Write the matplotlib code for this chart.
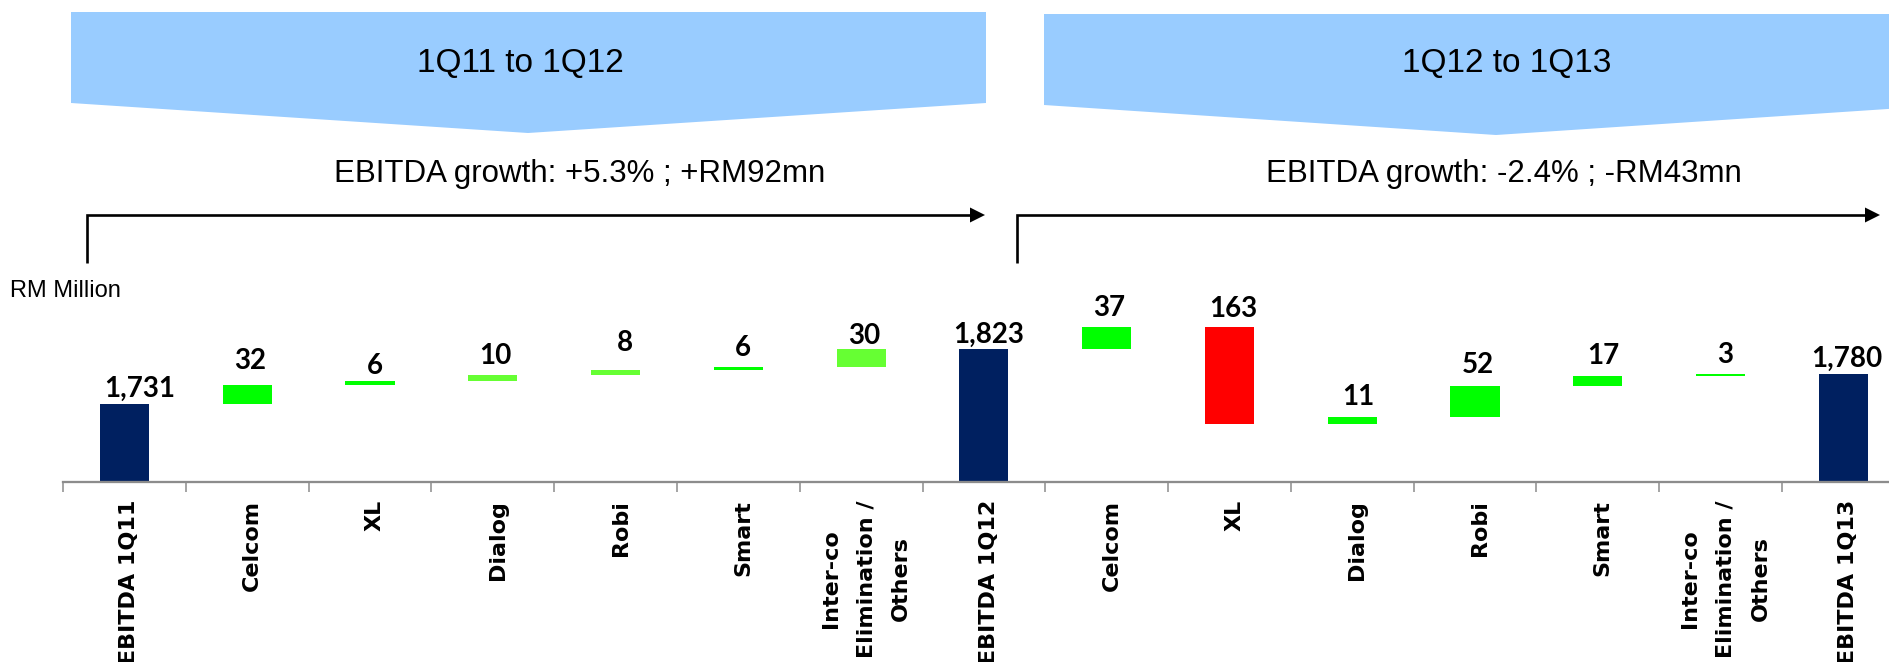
import matplotlib
matplotlib.use("Agg")
import matplotlib.pyplot as plt
from matplotlib.patches import Polygon
from matplotlib.lines import Line2D
from matplotlib.transforms import ScaledTranslation
import numpy as np

plt.rcParams['font.family'] = ['Liberation Sans', 'DejaVu Sans']

# ---------------- data ----------------
categories = ["EBITDA 1Q11", "Celcom", "XL", "Dialog", "Robi", "Smart",
              "Inter-co\nElimination /\nOthers", "EBITDA 1Q12",
              "Celcom", "XL", "Dialog", "Robi", "Smart",
              "Inter-co\nElimination /\nOthers", "EBITDA 1Q13"]
values = [1731, 32, 6, 10, 8, 6, 30, 1823, 37, -163, 11, 52, 17, 3, 1780]
is_total = [True, False, False, False, False, False, False, True,
            False, False, False, False, False, False, True]
period_titles = ["1Q11 to 1Q12", "1Q12 to 1Q13"]
growth_texts = ["EBITDA growth: +5.3% ; +RM92mn", "EBITDA growth: -2.4% ; -RM43mn"]
unit_label = "RM Million"

# ---------------- style ----------------
NAVY = "#002060"
G1 = "#00FF00"
G2 = "#66FF33"
RED = "#FF0000"
bar_colors = [NAVY, G1, G1, G2, G2, G1, G2, NAVY,
              G1, RED, G1, G1, G1, G1, NAVY]
# label offsets in pixels (dx, gap above bar top)
label_dx = [15, 3, 5, 3, 9, 5, 3, 5, 3, 4, 6, 3, 6, 5, 4]
label_gap = [7, 16, 7, 11, 19, 11, 5, 6, 11, 10, 12, 13, 12, 11, 8]

W, H = 1889, 662
fig = plt.figure(figsize=(W / 100, H / 100), dpi=100)

# overlay axes in pixel coordinates for banners / arrows / headings
ov = fig.add_axes([0, 0, 1, 1])
ov.set_xlim(0, W)
ov.set_ylim(H, 0)
ov.axis("off")

BLUE = "#99CCFF"
banners = [
    [(71, 12), (986, 12), (986, 103), (528, 133), (71, 103)],
    [(1044, 14), (1948, 14), (1948, 105), (1496, 135), (1044, 105)],
]
for pts in banners:
    ov.add_patch(Polygon(pts, closed=True, facecolor=BLUE, edgecolor="none"))

ov.text(520, 72, period_titles[0], fontsize=24, ha="center", va="baseline", color="black")
ov.text(1507, 72, period_titles[1], fontsize=24, ha="center", va="baseline", color="black")
ov.text(580, 182, growth_texts[0], fontsize=22.5, ha="center", va="baseline", color="black")
ov.text(1504, 182, growth_texts[1], fontsize=22.5, ha="center", va="baseline", color="black")
ov.text(10, 297, unit_label, fontsize=17, ha="left", va="baseline", color="black")

# bracket arrows
for x0, tip in [(87, 985), (1017, 1880)]:
    y = 215
    ov.add_line(Line2D([x0, x0, tip - 14], [263, y, y], color="black", lw=1.9,
                       solid_joinstyle="miter", solid_capstyle="butt"))
    ov.add_patch(Polygon([(tip - 15, y - 7.5), (tip, y), (tip - 15, y + 7.5)],
                         closed=True, facecolor="black", edgecolor="none"))

# ---------------- main waterfall axes ----------------
Y0 = 1600.0
PX_PER_UNIT = 0.598
BASE_PX = 482.0
TOP_PX = 140.0
STEP = 122.77
LEFT_PX = 124.5 - 0.5 * STEP

ax = fig.add_axes([LEFT_PX / W, (H - BASE_PX) / H, (W - LEFT_PX) / W, (BASE_PX - TOP_PX) / H])
ax.patch.set_alpha(0)

x = np.arange(len(categories))
bottoms = []
heights = []
running = 0
for v, tot in zip(values, is_total):
    if tot:
        bottoms.append(Y0)
        heights.append(v - Y0)
        running = v
    else:
        if v >= 0:
            bottoms.append(running)
            heights.append(v)
        else:
            bottoms.append(running + v)
            heights.append(-v)
        running += v

ax.bar(x, heights, bottom=bottoms, width=0.4, color=bar_colors, edgecolor="none", zorder=2)

for i, v in enumerate(values):
    top = bottoms[i] + heights[i]
    ax.annotate(f"{abs(v):,}", xy=(x[i], top), xytext=(label_dx[i], label_gap[i]),
                textcoords="offset pixels", ha="center", va="baseline",
                fontsize=20, fontweight="bold", family=["Lato", "DejaVu Sans"],
                color="black", zorder=3)

for s in ["top", "right", "left"]:
    ax.spines[s].set_visible(False)
ax.spines["bottom"].set_color("#8C8C8C")
ax.spines["bottom"].set_linewidth(1.65)
ax.set_yticks([])
ax.set_xticks(x)
ax.set_xticklabels(categories, rotation=90, ha="center", va="top",
                   fontsize=16, fontweight="bold", family="DejaVu Sans",
                   multialignment="center", linespacing=1.95)
ax.set_xticks(np.arange(-0.5, len(categories), 1.0), minor=True)
ax.tick_params(axis="x", which="major", length=0, pad=13)
ax.tick_params(axis="x", which="minor", length=7.3, width=1.1, color="#8C8C8C", direction="out")
off = ScaledTranslation(5 / 100, 0, fig.dpi_scale_trans)
for lbl in ax.get_xticklabels():
    lbl.set_transform(lbl.get_transform() + off)

# limits set after the ticks so they are not expanded
ax.set_xlim(-0.5, -0.5 + (W - LEFT_PX) / STEP)
ax.set_ylim(Y0, Y0 + (BASE_PX - TOP_PX) / PX_PER_UNIT)

fig.savefig("out.png", dpi=100)
